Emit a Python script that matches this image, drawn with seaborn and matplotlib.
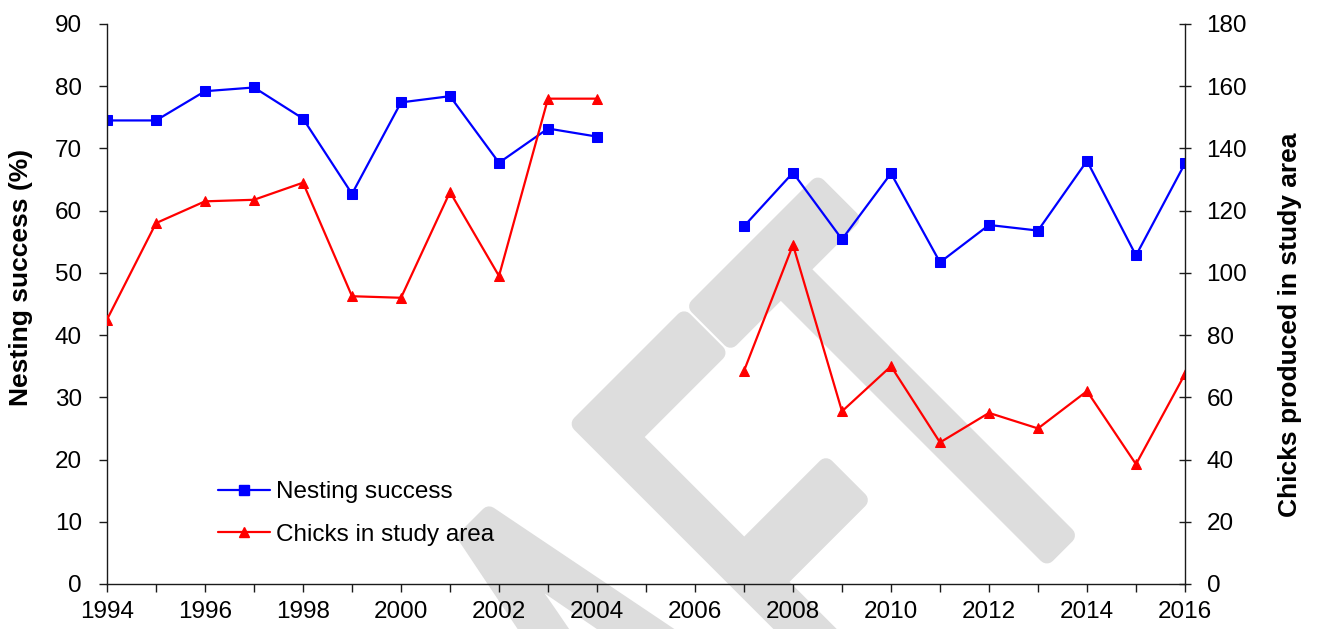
import numpy as np
import pandas as pd
import matplotlib
matplotlib.use("Agg")
import matplotlib.pyplot as plt
import seaborn as sns
from matplotlib.lines import Line2D
from matplotlib.textpath import TextPath
from matplotlib.font_manager import FontProperties
from matplotlib.patches import PathPatch
from matplotlib.transforms import Affine2D, IdentityTransform
from matplotlib.ticker import MultipleLocator

# Survey years (no survey in 2005-2006)
years_early = [1994, 1995, 1996, 1997, 1998, 1999, 2000, 2001, 2002, 2003, 2004]
years_late = [2007, 2008, 2009, 2010, 2011, 2012, 2013, 2014, 2015, 2016]

# Nesting success (%)
nesting_early = [74.5, 74.5, 79.2, 79.8, 74.8, 62.7, 77.4, 78.4, 67.7, 73.2, 71.9]
nesting_late = [57.5, 66.1, 55.4, 66.0, 51.7, 57.7, 56.8, 68.0, 52.8, 67.6]

# Chicks produced in study area
chicks_early = [85, 116, 123, 123.5, 129, 92.5, 92, 126, 99, 156, 156]
chicks_late = [68.5, 109, 55.5, 70, 45.5, 55, 50, 62, 38.5, 67.5]

legend_labels = ["Nesting success", "Chicks in study area"]

df = pd.DataFrame({
    "year": years_early + years_late,
    "nesting": nesting_early + nesting_late,
    "chicks": chicks_early + chicks_late,
    "period": [1] * len(years_early) + [2] * len(years_late),
})

sns.set_theme(style="white")
plt.rcParams["font.family"] = ["Liberation Sans", "DejaVu Sans"]
plt.rcParams["text.color"] = "black"
plt.rcParams["axes.labelcolor"] = "black"
plt.rcParams["xtick.color"] = "black"
plt.rcParams["ytick.color"] = "black"

W, H = 1317, 629
fig = plt.figure(figsize=(W / 100, H / 100), dpi=100)
fig.patch.set_facecolor("white")
ax = fig.add_axes([107 / W, 45 / H, 1078 / W, 560 / H])
ax2 = ax.twinx()
for a in (ax, ax2):
    a.patch.set_visible(False)

BLUE = "#0000ff"
RED = "#ff0000"

sns.lineplot(data=df, x="year", y="nesting", units="period", estimator=None,
             sort=False, ax=ax, color=BLUE, linewidth=1.6, marker="s",
             markersize=7.5, markeredgecolor=BLUE, markeredgewidth=0.75)
sns.lineplot(data=df, x="year", y="chicks", units="period", estimator=None,
             sort=False, ax=ax2, color=RED, linewidth=1.6, marker="^",
             markersize=7.5, markeredgecolor=RED, markeredgewidth=0.75)

ax.set_xlim(1994, 2016)
ax.set_ylim(0, 90)
ax2.set_ylim(0, 180)
ax.xaxis.set_major_locator(MultipleLocator(2))
ax.xaxis.set_minor_locator(MultipleLocator(1))
ax.yaxis.set_major_locator(MultipleLocator(10))
ax2.yaxis.set_major_locator(MultipleLocator(20))

ink = "#1a1a1a"
ax.tick_params(axis="x", which="both", direction="out", length=6, width=1,
               color=ink, labelcolor="black", labelsize=17.5, pad=6, bottom=True)
ax.tick_params(axis="y", which="major", direction="out", length=6, width=1,
               color=ink, labelcolor="black", labelsize=17.5, pad=12, left=True)
ax2.tick_params(axis="y", which="major", direction="inout", length=9, width=1,
                color=ink, labelcolor="black", labelsize=17.5, pad=11, right=True)

for a in (ax, ax2):
    a.spines["top"].set_visible(False)
    for s in ("left", "right", "bottom"):
        a.spines[s].set_color(ink)
        a.spines[s].set_linewidth(1)
ax.spines["right"].set_visible(False)
ax2.spines["left"].set_visible(False)
ax2.spines["bottom"].set_visible(False)

ax.set_xlabel("")
ax.set_ylabel("Nesting success (%)", fontsize=19, fontweight="bold", color="black")
ax2.set_ylabel("Chicks produced in study area", fontsize=19, fontweight="bold",
               color="black")
for lab in (ax.yaxis.label, ax2.yaxis.label):
    lab.set_verticalalignment("center")
    lab.set_horizontalalignment("center")
    lab.set_rotation_mode("anchor")
ax.yaxis.set_label_coords((21 - 107) / 1078, 1 - (277.5 - 24) / 560)
ax2.yaxis.set_label_coords((1290 - 107) / 1078, 1 - (325 - 24) / 560)

handles = [
    Line2D([], [], color=BLUE, lw=1.6, marker="s", markersize=7.5,
           markeredgecolor=BLUE),
    Line2D([], [], color=RED, lw=1.6, marker="^", markersize=7.5,
           markeredgecolor=RED),
]
leg = ax2.legend(handles, legend_labels, loc="center left",
                 bbox_to_anchor=(218 / W, 1 - 513.5 / H),
                 bbox_transform=fig.transFigure,
                 frameon=False, fontsize=17.5, handlelength=2.15,
                 handletextpad=0.25, labelspacing=0.85, borderpad=0,
                 borderaxespad=0)
for t in leg.get_texts():
    t.set_color("black")

# Diagonal "DRAFT" watermark behind the plot, drawn as two glyph groups
# so the "DRA" part can be tracked a little looser than "FT".
fp = FontProperties(family="Liberation Sans")
full = TextPath((0, 0), "DRAFT", size=1, prop=fp)
ft = TextPath((0, 0), "FT", size=1, prop=fp)
dra = TextPath((0, 0), "DRA", size=1, prop=fp)
ext = full.get_extents()
ft_shift = ext.x1 - ft.get_extents().x1
cap = 423.0
sy = cap / ext.y1
sx = sy * 0.49
extra_gap = 20.0 / sx  # extra tracking before "F", in em units
base = Affine2D().translate(-ext.x1, 0).scale(sx, sy).rotate_deg(45).translate(1117, H - 485)
groups = [
    (ft, Affine2D().translate(ft_shift, 0)),
    (dra, Affine2D().translate(-extra_gap, 0)),
]
for path, shift in groups:
    patch = PathPatch((shift + base).transform_path(path), facecolor="#dddddd",
                      edgecolor="#dddddd", lw=12, joinstyle="round",
                      capstyle="round", transform=IdentityTransform(), zorder=-5)
    fig.add_artist(patch)

fig.savefig("out.png", dpi=100, facecolor="white")
